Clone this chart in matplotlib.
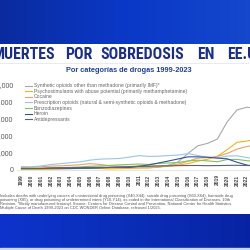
import numpy as np
import matplotlib
matplotlib.use("Agg")
import matplotlib.pyplot as plt

years = list(range(1999, 2024))
synthetic = [730, 782, 957, 1295, 1400, 1664, 1742, 2707, 2213, 2306, 2946, 3007, 2666, 2628, 3105, 5544, 9580, 19413, 28466, 31335, 36359, 56516, 70601, 73838, 72776]
psycho = [547, 578, 637, 1000, 1300, 1600, 1900, 2000, 1800, 1300, 1600, 1854, 2300, 2600, 3627, 4298, 5716, 7542, 10333, 12676, 16167, 23837, 32537, 34022, 36251]
cocaine = [3822, 3544, 3833, 4599, 4883, 5443, 6208, 7448, 6512, 5129, 4350, 4183, 4681, 4404, 4944, 5415, 6784, 10375, 13942, 14666, 15883, 19447, 24486, 27569, 29449]
rx_opioids = [3442, 3785, 4770, 6483, 7456, 8577, 9612, 11589, 12796, 13149, 13523, 15140, 16917, 16007, 16235, 16941, 17536, 19354, 17029, 14975, 14139, 16416, 16706, 14716, 13026]
benzo = [1135, 1298, 1594, 2358, 2690, 3159, 3602, 4452, 4739, 5400, 6100, 6497, 7000, 6524, 7800, 8300, 8791, 10684, 11537, 10724, 9711, 12290, 12499, 10964, 10050]
heroin = [1960, 1842, 1779, 2089, 2080, 1878, 2009, 2088, 2399, 3041, 3278, 3036, 4397, 5925, 8257, 10574, 12989, 15469, 15482, 14996, 14019, 13165, 9173, 5871, 4000]
antidep = [1749, 1808, 2000, 2400, 2600, 2700, 2800, 3000, 3100, 3200, 3400, 3900, 4300, 4400, 4700, 4900, 5100, 5300, 5300, 5100, 5200, 5400, 5500, 5300, 5200]

series_labels = [
    "Synthetic opioids other than methadone (primarily IMF)*",
    "Psychostimulants with abuse potential (primarily methamphetamine)",
    "Cocaine",
    "Prescription opioids (natural & semi-synthetic opioids & methadone)",
    "Benzodiazepines",
    "Heroin",
    "Antidepressants",
]
series_values = [synthetic, psycho, cocaine, rx_opioids, benzo, heroin, antidep]
series_colors = ["#a9a9a9", "#f2b31c", "#f0a060", "#9cc4e8", "#86c05a", "#2f5597", "#56627e"]
yticks = [0, 20000, 40000, 60000, 80000, 100000]

title_words = ["MUERTES", "POR", "SOBREDOSIS", "EN", "EE.UU."]
subtitle = "Por categorías de drogas 1999-2023"
footnote = [
    "Includes deaths with underlying causes of unintentional drug poisoning (X40-X44), suicide drug poisoning (X60-X64), homicide drug",
    "poisoning (X85), or drug poisoning of undetermined intent (Y10-Y14), as coded in the International Classification of Diseases, 10th",
    "Revision. *Illicitly manufactured fentanyl. Source: Centers for Disease Control and Prevention, National Center for Health Statistics.",
    "Multiple Cause of Death 1999-2023 on CDC WONDER Online Database, released 1/2025.",
]

W = H = 250
fig = plt.figure(figsize=(2.5, 2.5), dpi=100)
fig.patch.set_facecolor("white")

def fx(px):
    return px / W

def fy(py):
    return 1 - py / H

# background bands
bg = fig.add_axes([0, 0, 1, 1], zorder=-10)
bg.axis("off")
grad = np.linspace(0, 1, 256)
def band(y0, y1, cols):
    img = np.zeros((2, 256, 3))
    for c in range(3):
        img[:, :, c] = np.interp(grad, [0, 0.5, 1], cols[:, c])
    bg.imshow(img, extent=[0, W, y1, y0], aspect="auto", zorder=0)
band(0, 44, np.array([[0.04, 0.17, 0.62], [0.04, 0.22, 0.78], [0.08, 0.28, 0.80]]))
band(214, 248, np.array([[0.05, 0.20, 0.80], [0.04, 0.18, 0.72], [0.03, 0.14, 0.64]]))
bg.axhspan(248, 250, color="#c8d4f0", zorder=1)
bg.plot([0, W], [62.5, 62.5], color="#dde4f0", lw=0.5)
bg.set_xlim(0, W)
bg.set_ylim(H, 0)

# title
title_fam = ["Roboto Condensed", "Roboto", "Liberation Sans", "DejaVu Sans"]
title_x = [55, 65, 100, 197, 227]
for i, w in enumerate(title_words):
    fig.text(fx(title_x[i]), fy(59), w, ha="right" if i == 0 else "left", va="baseline",
             fontsize=11.4, fontweight="bold", color="#1b2d8c", family=title_fam)
fig.text(fx(128.5), fy(72), subtitle, ha="center", va="baseline", fontsize=5.3,
         fontweight="bold", color="#1f3f9e", family=["Liberation Sans", "DejaVu Sans"])

# chart
x0, x1 = 1998.5, 2023.5
left_px = 21.5 - 0.5 * 9.8
right_px = 256.5 + 0.5 * 9.8
ax = fig.add_axes([fx(left_px), fy(170), (right_px - left_px) / W, 85 / H])
for vals, col, lab in zip(series_values, series_colors, series_labels):
    ax.plot(years, vals, color=col, lw=0.8, label=lab)
ax.set_xlim(x0, x1)
ax.set_ylim(0, 100000)
ax.set_yticks(yticks)
ax.set_yticklabels([f"{v:,}" for v in yticks], fontsize=5, color="#555555",
                   family=["Liberation Sans", "DejaVu Sans"])
ax.set_xticks(years)
ax.set_xticklabels([str(y) for y in years], rotation=90, fontsize=3.6, color="#444444",
                   fontweight="bold", family=["Liberation Sans", "DejaVu Sans"])
ax.tick_params(axis="y", length=0, pad=2.4)
ax.tick_params(axis="x", length=0, pad=3.2)
for s in ["top", "right", "left"]:
    ax.spines[s].set_visible(False)
ax.spines["bottom"].set_color("#d9d9d9")
ax.spines["bottom"].set_linewidth(0.5)
ax.patch.set_alpha(0)

leg = ax.legend(loc="upper left", bbox_to_anchor=(fx(25), fy(83.3)), bbox_transform=fig.transFigure,
                frameon=False, handlelength=1.4, handletextpad=0.3,
                labelspacing=0.12, borderpad=0, borderaxespad=0,
                prop={"family": ["Liberation Sans", "DejaVu Sans"], "size": 3.6})
for t in leg.get_texts():
    t.set_color("#666666")

# footnote
for i, line in enumerate(footnote):
    fig.text(fx(-0.5), fy(196.5 + i * 4.3), line, ha="left", va="baseline", fontsize=2.9,
             color="#555555", family=["Liberation Sans", "DejaVu Sans"])

fig.savefig("out.png", dpi=100)
